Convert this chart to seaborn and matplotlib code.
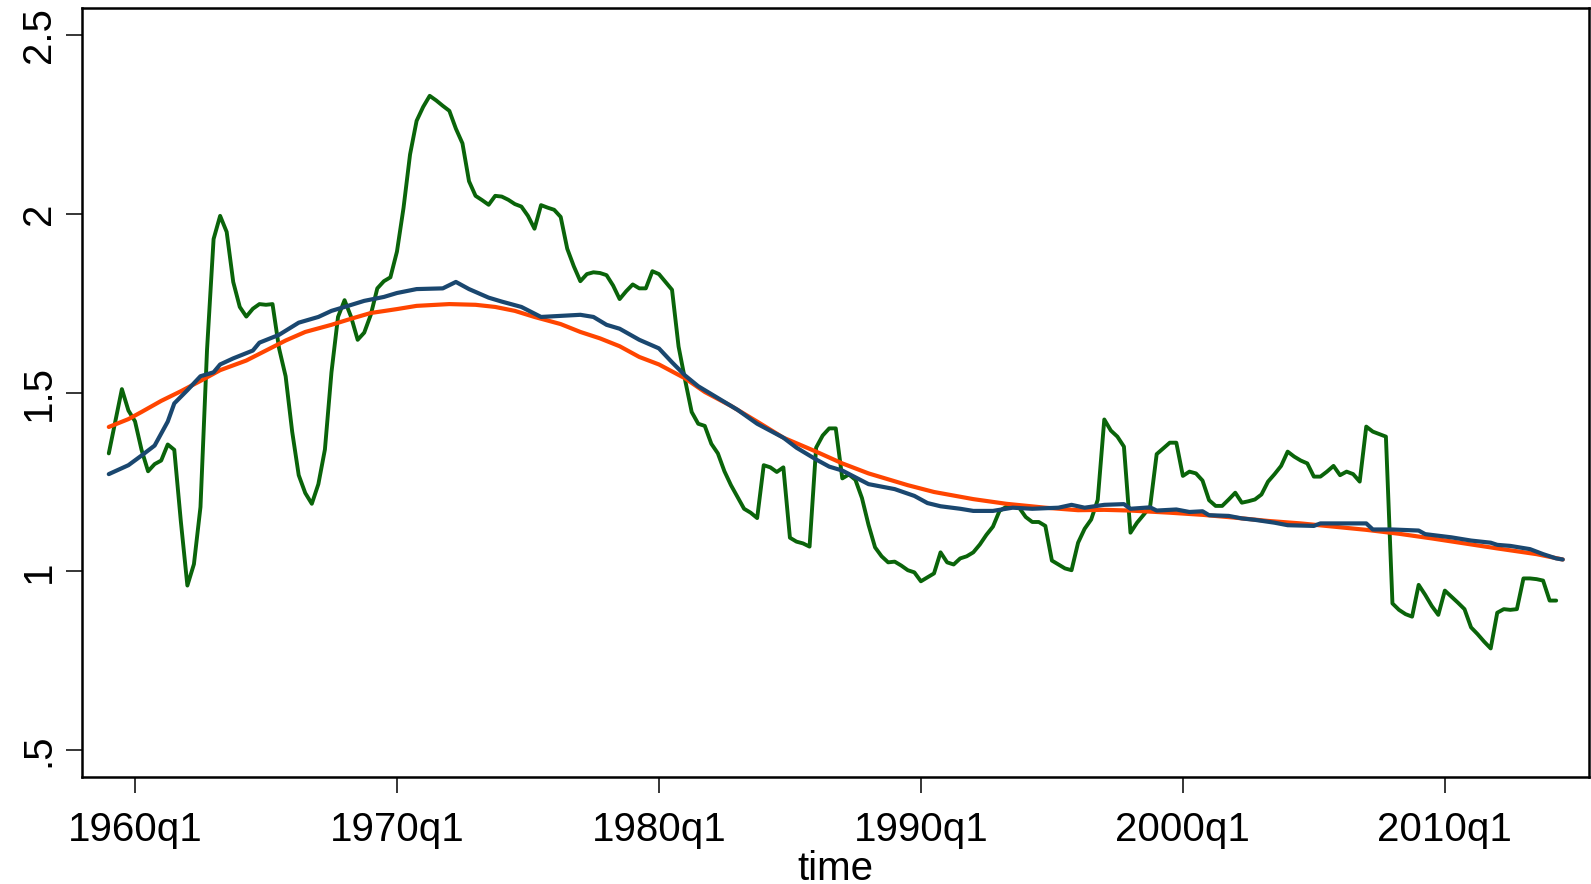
import numpy as np
import pandas as pd
import matplotlib
matplotlib.use("Agg")
import matplotlib.pyplot as plt
import seaborn as sns

# quarterly series starting 1959q1 (t = quarters since 1960q1)
start_t = -4
green = [
    1.33, 1.42, 1.51, 1.45,
    1.42, 1.34, 1.28, 1.30,
    1.31, 1.355, 1.34, 1.14,
    0.96, 1.02, 1.18, 1.62,
    1.93, 1.995, 1.95, 1.81,
    1.74, 1.713, 1.735, 1.748,
    1.746, 1.748, 1.624, 1.546,
    1.391, 1.269, 1.219, 1.189,
    1.244, 1.341, 1.557, 1.712,
    1.759, 1.712, 1.648, 1.668,
    1.718, 1.792, 1.812, 1.823,
    1.895, 2.017, 2.167, 2.261,
    2.30, 2.331, 2.318, 2.303,
    2.289, 2.239, 2.198, 2.092,
    2.051, 2.039, 2.026, 2.051,
    2.049, 2.040, 2.028, 2.021,
    1.995, 1.959, 2.025, 2.018,
    2.012, 1.992, 1.903, 1.854,
    1.812, 1.832, 1.837, 1.835,
    1.829, 1.80, 1.762, 1.784,
    1.803, 1.792, 1.792, 1.840,
    1.832, 1.810, 1.788, 1.629,
    1.535, 1.446, 1.413, 1.407,
    1.357, 1.330, 1.280, 1.241,
    1.208, 1.175, 1.164, 1.149,
    1.297, 1.291, 1.278, 1.291,
    1.094, 1.083, 1.078, 1.069,
    1.346, 1.380, 1.400, 1.400,
    1.260, 1.271, 1.256, 1.205,
    1.130, 1.067, 1.042, 1.025,
    1.027, 1.016, 1.003, 0.997,
    0.972, 0.983, 0.994, 1.053,
    1.025, 1.019, 1.036, 1.042,
    1.053, 1.075, 1.102, 1.125,
    1.169, 1.180, 1.182, 1.178,
    1.152, 1.138, 1.138, 1.127,
    1.030, 1.019, 1.008, 1.003,
    1.080, 1.119, 1.145, 1.20,
    1.425, 1.394, 1.377, 1.349,
    1.108, 1.136, 1.158, 1.181,
    1.328, 1.344, 1.360, 1.360,
    1.267, 1.279, 1.274, 1.254,
    1.199, 1.183, 1.183, 1.201,
    1.220, 1.192, 1.196, 1.201,
    1.215, 1.251, 1.272, 1.295,
    1.335, 1.321, 1.310, 1.302,
    1.265, 1.265, 1.279, 1.295,
    1.269, 1.279, 1.272, 1.251,
    1.405, 1.391, 1.384, 1.377,
    0.910, 0.892, 0.880, 0.873,
    0.962, 0.934, 0.903, 0.878,
    0.946, 0.929, 0.912, 0.894,
    0.843, 0.824, 0.803, 0.784,
    0.884, 0.894, 0.892, 0.894,
    0.980, 0.980, 0.978, 0.974,
    0.918, 0.918,
]

# smoothed series (read points: quarter index, value)
blue_t = [-4, -1, 1, 3, 5, 6, 8, 10, 12, 13, 15, 18, 19, 22, 25, 28, 30, 32, 35, 38,
          40, 43, 47, 49, 51, 54, 56, 59, 62, 64, 68, 70, 72, 74, 77, 80, 82, 84, 86, 90,
          92, 95, 99, 101, 104, 106, 108, 110, 112, 116, 119, 121, 123, 126, 128, 131, 134,
          137, 141, 143, 145, 148, 151, 152, 155, 156, 159, 161, 163, 164, 167, 169, 171,
          174, 176, 180, 181, 188, 189, 192, 196, 197, 201, 204, 207, 208, 210, 213, 215,
          217, 218]
blue_v = [1.272, 1.297, 1.324, 1.352, 1.419, 1.47, 1.507, 1.546, 1.557, 1.579, 1.596, 1.618,
          1.640, 1.662, 1.696, 1.712, 1.729, 1.740, 1.757, 1.768, 1.779, 1.790, 1.792, 1.810,
          1.790, 1.766, 1.755, 1.740, 1.712, 1.714, 1.718, 1.712, 1.690, 1.679, 1.648, 1.624,
          1.585, 1.548, 1.518, 1.474, 1.452, 1.413, 1.374, 1.346, 1.313, 1.293, 1.282, 1.263,
          1.244, 1.230, 1.211, 1.191, 1.182, 1.175, 1.169, 1.169, 1.178, 1.175, 1.178, 1.186,
          1.178, 1.186, 1.188, 1.175, 1.179, 1.170, 1.173, 1.166, 1.168, 1.157, 1.155, 1.148,
          1.144, 1.136, 1.129, 1.127, 1.134, 1.134, 1.117, 1.117, 1.114, 1.104, 1.095, 1.086,
          1.080, 1.074, 1.071, 1.062, 1.048, 1.036, 1.033]

# trend series
red_t = [-4, -1, 1, 4, 7, 10, 13, 17, 20, 23, 26, 30, 33, 36, 40, 43, 46, 48, 52, 55, 58,
         61, 65, 68, 71, 74, 77, 80, 84, 87, 91, 95, 99, 104, 108, 112, 118, 122, 128, 133,
         139, 144, 148, 152, 158, 163, 168, 173, 178, 183, 188, 193, 198, 203, 208, 214, 218]
red_v = [1.404, 1.426, 1.446, 1.477, 1.504, 1.533, 1.563, 1.590, 1.618, 1.646, 1.670, 1.690,
         1.707, 1.723, 1.734, 1.743, 1.746, 1.748, 1.746, 1.740, 1.729, 1.712, 1.692, 1.670,
         1.652, 1.630, 1.600, 1.579, 1.540, 1.502, 1.463, 1.419, 1.374, 1.335, 1.302, 1.274,
         1.241, 1.222, 1.202, 1.189, 1.178, 1.171, 1.172, 1.170, 1.164, 1.158, 1.150, 1.141,
         1.134, 1.125, 1.116, 1.105, 1.092, 1.078, 1.064, 1.048, 1.033]

tick_years = [1960, 1970, 1980, 1990, 2000, 2010]
tick_labels = ["1960q1", "1970q1", "1980q1", "1990q1", "2000q1", "2010q1"]
y_ticks = [0.5, 1.0, 1.5, 2.0, 2.5]
y_labels = [".5", "1", "1.5", "2", "2.5"]

sns.set_theme(style="white")
plt.rcParams["font.family"] = ["Liberation Sans", "DejaVu Sans"]

df_g = pd.DataFrame({"t": np.arange(start_t, start_t + len(green)), "v": green})
df_b = pd.DataFrame({"t": blue_t, "v": blue_v})
df_r = pd.DataFrame({"t": red_t, "v": red_v})

fig = plt.figure(figsize=(15.91, 8.84), dpi=100)
ax = fig.add_axes([0.0515, 0.121, 0.9472, 0.870])

sns.lineplot(data=df_g, x="t", y="v", ax=ax, color="#0a640a", lw=2.8, estimator=None, sort=False)
sns.lineplot(data=df_r, x="t", y="v", ax=ax, color="#ff4500", lw=3.0, estimator=None, sort=False)
sns.lineplot(data=df_b, x="t", y="v", ax=ax, color="#1a476f", lw=3.0, estimator=None, sort=False)

ax.set_xlim(-8.1, 222)
ax.set_ylim(0.424, 2.577)
ax.set_xticks([(y - 1960) * 4 for y in tick_years])
ax.set_xticklabels(tick_labels)
ax.set_yticks(y_ticks)
ax.set_yticklabels(y_labels, rotation=90, va="center")
ax.tick_params(axis="both", which="major", direction="out", length=11.5, width=1.1,
               color="black", labelsize=29, labelcolor="black", bottom=True, left=True, pad=6)
ax.tick_params(axis="x", pad=13)
ax.set_xlabel("time", fontsize=29, labelpad=1, color="black")
ax.set_ylabel("")
for s in ax.spines.values():
    s.set_visible(True)
    s.set_color("black")
    s.set_linewidth(1.8)
ax.grid(False)

fig.savefig("out.png", dpi=100)
